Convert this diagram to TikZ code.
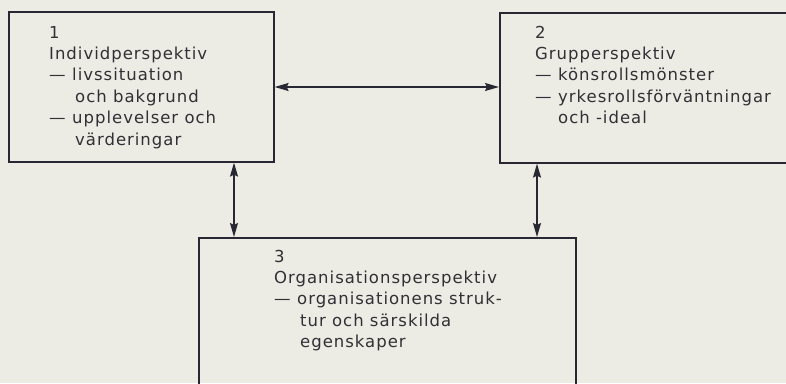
\documentclass[tikz,border=0pt]{standalone}
\usepackage{fontspec}
\setmainfont{DejaVu Sans}[LetterSpace=6]
\usetikzlibrary{arrows.meta}
\definecolor{paper}{RGB}{236,236,228}
\definecolor{ink}{RGB}{40,40,52}
\definecolor{txt}{RGB}{48,48,54}
\newcommand\dl{\makebox[23pt][l]{—}}
\newcommand\ind[1][26pt]{\hspace*{#1}}
\begin{document}
\begin{tikzpicture}[x=1pt,y=-1pt,
  box/.style={draw=ink,line width=1.6pt,inner sep=0pt,anchor=north west},
  lbl/.style={anchor=base west,inner sep=0pt,align=left,text=txt,font=\fontsize{16.5}{21.4}\selectfont},
  conn/.style={draw=ink,line width=1.5pt,{Stealth[length=14pt,width=8pt,inset=2pt]}-{Stealth[length=14pt,width=8pt,inset=2pt]}}]
\fill[paper] (0,0) rectangle (786,383);
\useasboundingbox (0,0) rectangle (786,383);
\path[clip] (0,0) rectangle (786,383);
\node[box,minimum width=265pt,minimum height=150pt] (b1) at (8,11) {};
\node[box,minimum width=320pt,minimum height=150pt] (b2) at (499,12) {};
\node[box,minimum width=377pt,minimum height=180pt] (b3) at (198,237) {};
\node[lbl] (t1) at (49,145) {1\\Individperspektiv\\\dl livssituation\\\ind och bakgrund\\\dl upplevelser och\\\ind värderingar};
\node[lbl] (t2) at (535,123.6) {2\\Grupperspektiv\\\dl könsrollsmönster\\\dl yrkesrollsförväntningar\\\ind[23pt]och -ideal};
\node[lbl] (t3) at (274,347.6) {3\\Organisationsperspektiv\\\dl organisationens struk-\\\ind tur och särskilda\\\ind egenskaper};
\draw[conn] (b1.east |- 0,87) -- (b2.west |- 0,87);
\draw[conn] (b1.south -| 234,0) -- (b3.north -| 234,0);
\draw[conn] (b2.south -| 537,0) -- (b3.north -| 537,0);
\end{tikzpicture}
\end{document}
